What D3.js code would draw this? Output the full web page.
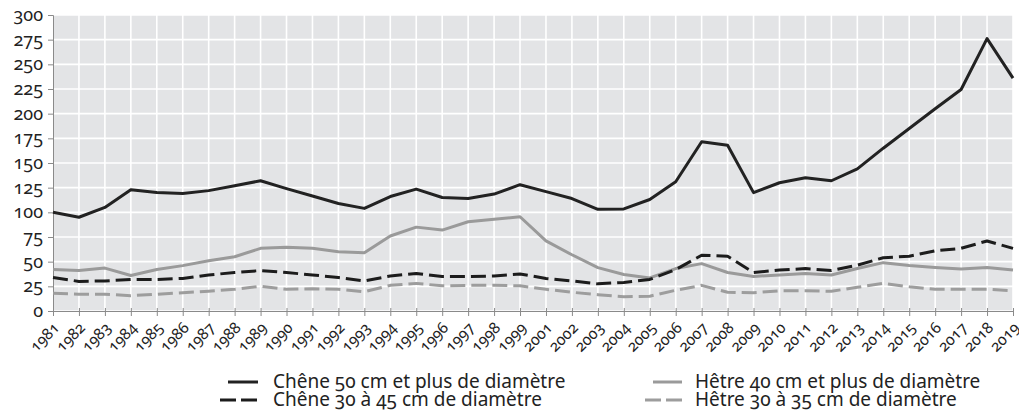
<!DOCTYPE html>
<html>
<head>
<meta charset="utf-8">
<script src="https://cdn.jsdelivr.net/npm/d3@7"></script>
<style>
  body { margin: 0; background: #fff; }
  svg text { font-family: "Noto Sans", "Open Sans", sans-serif; font-variant-numeric: oldstyle-nums; font-feature-settings: "onum" 1; fill: #222; }
</style>
</head>
<body>
<div id="chart"></div>
<script>
const width = 1019;
const height = 411;

// data (2000 is missing in the source)
const years = ["1981","1982","1983","1984","1985","1986","1987","1988","1989","1990",
  "1991","1992","1993","1994","1995","1996","1997","1998","1999",
  "2001","2002","2003","2004","2005","2006","2007","2008","2009","2010",
  "2011","2012","2013","2014","2015","2016","2017","2018","2019"];
const chene50 = [100,95,105,123,120,119,122,127,132,124,116.5,109,
  104,116,123.5,115,114,118.5,128,
  121,114,103,103.5,113,131,
  171.5,168,120,130,135,132,144,165,185,205,224.5,276,236];
const hetre40 = [42,41,43.5,36,42,46,51,55,63.5,64.5,63.5,60,
  59,76,85,82,90.5,93,95.5,
  71,57,44,37,33.5,43,
  48,39,35,36.5,38,36.5,43,49,46,44,42.5,44,41.5];
const chene30 = [34,30,30.5,32,32,33,36.5,39,41,39,36.5,34,
  30.5,35.5,38,35,35,35.5,37.5,
  33,30.5,27.5,29,32,42,
  56.5,55.5,39,41.5,43,41,46.5,54,55.5,61,63.5,71,63.5];
const hetre30 = [18,17,17,15.5,17,18.5,20,22,25,22,22.5,22,
  19.5,26,28,25.5,26,26,25.5,
  22,19,16.5,14.5,15,21,
  26,19,18.5,20.5,20.5,20,24,28,24.5,22,22,22,20.5];
const yTicks = [0,25,50,75,100,125,150,175,200,225,250,275,300];

const seriesNames = ["Chêne 50 cm et plus de diamètre", "Chêne 30 à 45 cm de diamètre",
  "Hêtre 40 cm et plus de diamètre", "Hêtre 30 à 35 cm de diamètre"];
const seriesValues = [chene50, chene30, hetre40, hetre30];
const seriesColors = ["#222222", "#1c1c1c", "#9a9a9a", "#9d9d9d"];
const seriesDash = [null, "15,6", null, "15,6"];

const plotLeft = 53, plotRight = 1013, plotTop = 15, plotBottom = 311;

var svg = d3.select("#chart").append("svg")
    .attr("width", width)
    .attr("height", height);

var x = d3.scalePoint().domain(years).range([plotLeft, plotRight]);
var y = d3.scaleLinear().domain([0, 300]).range([plotBottom, plotTop]);

// background
svg.append("rect")
    .attr("x", plotLeft).attr("y", plotTop)
    .attr("width", plotRight - plotLeft).attr("height", plotBottom - plotTop)
    .attr("fill", "#e3e4e6");

// grid
svg.append("g").selectAll("line").data(years).enter().append("line")
    .attr("x1", d => x(d)).attr("x2", d => x(d))
    .attr("y1", plotTop).attr("y2", plotBottom)
    .attr("stroke", "#fff").attr("stroke-width", 1.6);
svg.append("g").selectAll("line").data(yTicks).enter().append("line")
    .attr("x1", plotLeft).attr("x2", plotRight)
    .attr("y1", d => y(d)).attr("y2", d => y(d))
    .attr("stroke", "#fff").attr("stroke-width", 1.6);

// axes
var yAxis = svg.append("g")
    .attr("transform", "translate(" + plotLeft + ",0)")
    .call(d3.axisLeft(y).tickValues(yTicks).tickSize(5).tickPadding(5));
yAxis.attr("font-family", null).attr("font-size", null);
yAxis.selectAll("text")
    .style("font-size", "18px")
    .attr("dy", "0.3em");

var xAxis = svg.append("g")
    .attr("transform", "translate(0," + plotBottom + ")")
    .call(d3.axisBottom(x).tickSize(5).tickSizeOuter(0));
xAxis.attr("font-family", null).attr("font-size", null);
xAxis.selectAll(".tick line").attr("y1", -3).attr("y2", 5);
xAxis.selectAll("text")
    .style("font-size", "15.5px")
    .attr("text-anchor", "end")
    .attr("transform", "translate(-1,10) rotate(-45)")
    .attr("x", 0).attr("y", 0).attr("dy", "0.7em");

svg.selectAll(".domain, .tick line").attr("stroke", "#8a8a8a");

// lines (gray first, black on top)
var line = d3.line().x((d, i) => x(years[i])).y(d => y(d));
[2, 3, 1, 0].forEach(function (k) {
    svg.append("path")
        .datum(seriesValues[k])
        .attr("d", line)
        .attr("fill", "none")
        .attr("stroke", seriesColors[k])
        .attr("stroke-width", 3)
        .attr("stroke-linejoin", "round")
        .attr("stroke-dasharray", seriesDash[k]);
});

// legend
var swatchStart = [228, 220, 653, 645];
var swatchEnd = [258, 258, 682, 682];
var textX = [273, 273, 695, 695];
var rowY = [382, 400, 382, 400];
seriesNames.forEach(function (name, k) {
    svg.append("line")
        .attr("x1", swatchStart[k]).attr("x2", swatchEnd[k])
        .attr("y1", rowY[k]).attr("y2", rowY[k])
        .attr("stroke", seriesColors[k]).attr("stroke-width", 3)
        .attr("stroke-dasharray", seriesDash[k] ? "16,5" : null);
    svg.append("text")
        .attr("x", textX[k])
        .attr("y", rowY[k] + 6)
        .style("font-size", "19px")
        .text(name);
});
</script>
</body>
</html>
